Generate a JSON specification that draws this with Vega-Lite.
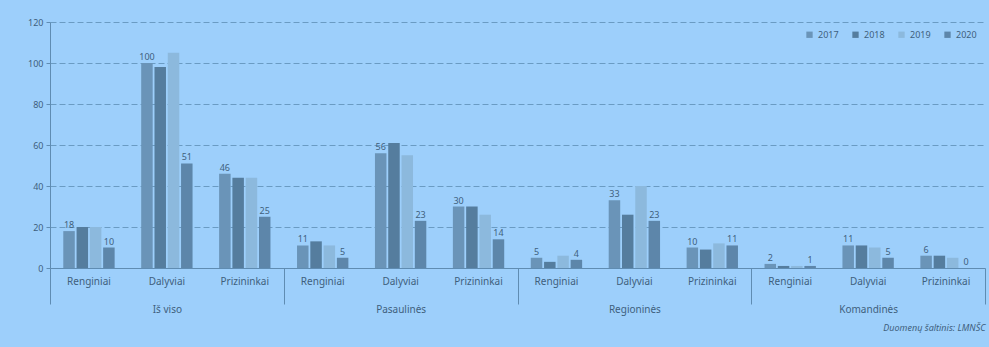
{
  "$schema": "https://vega.github.io/schema/vega-lite/v6.json",
  "width": 935,
  "height": 246,
  "autosize": {"type": "none"},
  "padding": {"left": 50, "top": 22, "right": 4, "bottom": 79},
  "background": "#9dcffb",
  "config": {"view": {"stroke": null}, "font": "Noto Sans"},
  "title": {"text": "Duomenų šaltinis: LMNŠC", "orient": "bottom", "anchor": "end", "fontSize": 9, "fontStyle": "italic", "fontWeight": "normal", "color": "#3f5f7d", "offset": 10},
  "data": {"values": [
    {"group": "Iš viso", "cat": "Iš viso|Renginiai", "year": "2017", "value": 18},
    {"group": "Iš viso", "cat": "Iš viso|Renginiai", "year": "2018", "value": 20},
    {"group": "Iš viso", "cat": "Iš viso|Renginiai", "year": "2019", "value": 20},
    {"group": "Iš viso", "cat": "Iš viso|Renginiai", "year": "2020", "value": 10},
    {"group": "Iš viso", "cat": "Iš viso|Dalyviai", "year": "2017", "value": 100},
    {"group": "Iš viso", "cat": "Iš viso|Dalyviai", "year": "2018", "value": 98},
    {"group": "Iš viso", "cat": "Iš viso|Dalyviai", "year": "2019", "value": 105},
    {"group": "Iš viso", "cat": "Iš viso|Dalyviai", "year": "2020", "value": 51},
    {"group": "Iš viso", "cat": "Iš viso|Prizininkai", "year": "2017", "value": 46},
    {"group": "Iš viso", "cat": "Iš viso|Prizininkai", "year": "2018", "value": 44},
    {"group": "Iš viso", "cat": "Iš viso|Prizininkai", "year": "2019", "value": 44},
    {"group": "Iš viso", "cat": "Iš viso|Prizininkai", "year": "2020", "value": 25},
    {"group": "Pasaulinės", "cat": "Pasaulinės|Renginiai", "year": "2017", "value": 11},
    {"group": "Pasaulinės", "cat": "Pasaulinės|Renginiai", "year": "2018", "value": 13},
    {"group": "Pasaulinės", "cat": "Pasaulinės|Renginiai", "year": "2019", "value": 11},
    {"group": "Pasaulinės", "cat": "Pasaulinės|Renginiai", "year": "2020", "value": 5},
    {"group": "Pasaulinės", "cat": "Pasaulinės|Dalyviai", "year": "2017", "value": 56},
    {"group": "Pasaulinės", "cat": "Pasaulinės|Dalyviai", "year": "2018", "value": 61},
    {"group": "Pasaulinės", "cat": "Pasaulinės|Dalyviai", "year": "2019", "value": 55},
    {"group": "Pasaulinės", "cat": "Pasaulinės|Dalyviai", "year": "2020", "value": 23},
    {"group": "Pasaulinės", "cat": "Pasaulinės|Prizininkai", "year": "2017", "value": 30},
    {"group": "Pasaulinės", "cat": "Pasaulinės|Prizininkai", "year": "2018", "value": 30},
    {"group": "Pasaulinės", "cat": "Pasaulinės|Prizininkai", "year": "2019", "value": 26},
    {"group": "Pasaulinės", "cat": "Pasaulinės|Prizininkai", "year": "2020", "value": 14},
    {"group": "Regioninės", "cat": "Regioninės|Renginiai", "year": "2017", "value": 5},
    {"group": "Regioninės", "cat": "Regioninės|Renginiai", "year": "2018", "value": 3},
    {"group": "Regioninės", "cat": "Regioninės|Renginiai", "year": "2019", "value": 6},
    {"group": "Regioninės", "cat": "Regioninės|Renginiai", "year": "2020", "value": 4},
    {"group": "Regioninės", "cat": "Regioninės|Dalyviai", "year": "2017", "value": 33},
    {"group": "Regioninės", "cat": "Regioninės|Dalyviai", "year": "2018", "value": 26},
    {"group": "Regioninės", "cat": "Regioninės|Dalyviai", "year": "2019", "value": 40},
    {"group": "Regioninės", "cat": "Regioninės|Dalyviai", "year": "2020", "value": 23},
    {"group": "Regioninės", "cat": "Regioninės|Prizininkai", "year": "2017", "value": 10},
    {"group": "Regioninės", "cat": "Regioninės|Prizininkai", "year": "2018", "value": 9},
    {"group": "Regioninės", "cat": "Regioninės|Prizininkai", "year": "2019", "value": 12},
    {"group": "Regioninės", "cat": "Regioninės|Prizininkai", "year": "2020", "value": 11},
    {"group": "Komandinės", "cat": "Komandinės|Renginiai", "year": "2017", "value": 2},
    {"group": "Komandinės", "cat": "Komandinės|Renginiai", "year": "2018", "value": 1},
    {"group": "Komandinės", "cat": "Komandinės|Renginiai", "year": "2019", "value": 1},
    {"group": "Komandinės", "cat": "Komandinės|Renginiai", "year": "2020", "value": 1},
    {"group": "Komandinės", "cat": "Komandinės|Dalyviai", "year": "2017", "value": 11},
    {"group": "Komandinės", "cat": "Komandinės|Dalyviai", "year": "2018", "value": 11},
    {"group": "Komandinės", "cat": "Komandinės|Dalyviai", "year": "2019", "value": 10},
    {"group": "Komandinės", "cat": "Komandinės|Dalyviai", "year": "2020", "value": 5},
    {"group": "Komandinės", "cat": "Komandinės|Prizininkai", "year": "2017", "value": 6},
    {"group": "Komandinės", "cat": "Komandinės|Prizininkai", "year": "2018", "value": 6},
    {"group": "Komandinės", "cat": "Komandinės|Prizininkai", "year": "2019", "value": 5},
    {"group": "Komandinės", "cat": "Komandinės|Prizininkai", "year": "2020", "value": 0}
  ]},
  "layer": [
    {
      "mark": {"type": "bar"},
      "encoding": {
        "x": {"field": "cat", "type": "nominal", "sort": null,
          "scale": {"domain": ["Iš viso|Renginiai", "Iš viso|Dalyviai", "Iš viso|Prizininkai", "Pasaulinės|Renginiai", "Pasaulinės|Dalyviai", "Pasaulinės|Prizininkai", "Regioninės|Renginiai", "Regioninės|Dalyviai", "Regioninės|Prizininkai", "Komandinės|Renginiai", "Komandinės|Dalyviai", "Komandinės|Prizininkai"], "paddingInner": 0, "paddingOuter": 0},
          "axis": {"title": null, "labelExpr": "split(datum.label, '|')[1]", "ticks": false, "labelAngle": 0, "labelPadding": 8, "domainColor": "#5f8cb2", "labelColor": "#3f5f7d", "labelFontSize": 10}},
        "xOffset": {"field": "year", "type": "nominal", "scale": {"domain": ["2017", "2018", "2019", "2020"], "paddingInner": 0.135, "paddingOuter": 1.0}},
        "y": {"field": "value", "type": "quantitative", "scale": {"domain": [0, 120]},
          "axis": {"title": null, "values": [0, 20, 40, 60, 80, 100, 120], "grid": true, "gridDash": [6, 3], "gridColor": "#6a9bc3", "domainColor": "#5f8cb2", "tickColor": "#5f8cb2", "tickSize": 4, "labelFontSize": 9, "labelColor": "#3f5f7d", "labelPadding": 3}},
        "color": {"field": "year", "type": "nominal",
          "scale": {"domain": ["2017", "2018", "2019", "2020"], "range": ["#6a94b8", "#557d9e", "#8cb9dd", "#5d86aa"]},
          "legend": {"title": null, "orient": "top-right", "direction": "horizontal", "symbolType": "square", "symbolSize": 40, "labelFontSize": 9, "labelColor": "#3f5f7d", "columnPadding": 12, "offset": 8}}
      }
    },
    {
      "transform": [{"filter": "datum.year == '2017' || datum.year == '2020'"}],
      "mark": {"type": "text", "dy": -6, "fontSize": 9, "color": "#3f5f7d"},
      "encoding": {
        "x": {"field": "cat", "type": "nominal", "sort": null,
          "scale": {"domain": ["Iš viso|Renginiai", "Iš viso|Dalyviai", "Iš viso|Prizininkai", "Pasaulinės|Renginiai", "Pasaulinės|Dalyviai", "Pasaulinės|Prizininkai", "Regioninės|Renginiai", "Regioninės|Dalyviai", "Regioninės|Prizininkai", "Komandinės|Renginiai", "Komandinės|Dalyviai", "Komandinės|Prizininkai"], "paddingInner": 0, "paddingOuter": 0},
          "axis": null},
        "xOffset": {"field": "year", "type": "nominal", "scale": {"domain": ["2017", "2018", "2019", "2020"], "paddingInner": 0.135, "paddingOuter": 1.0}},
        "y": {"field": "value", "type": "quantitative"},
        "text": {"field": "value", "type": "quantitative"}
      }
    },
    {
      "mark": {"type": "text"},
      "encoding": {
        "x": {"field": "group", "type": "nominal", "sort": null,
          "scale": {"domain": ["Iš viso", "Pasaulinės", "Regioninės", "Komandinės"], "paddingInner": 0, "paddingOuter": 0},
          "axis": {"orient": "bottom", "title": null, "labelAngle": 0, "tickBand": "extent", "tickSize": 36, "labelPadding": 0, "domain": false, "tickColor": "#5f8cb2", "labelColor": "#3f5f7d", "labelFontSize": 10}},
        "text": {"value": ""}
      }
    }
  ],
  "resolve": {"scale": {"x": "independent"}}
}
